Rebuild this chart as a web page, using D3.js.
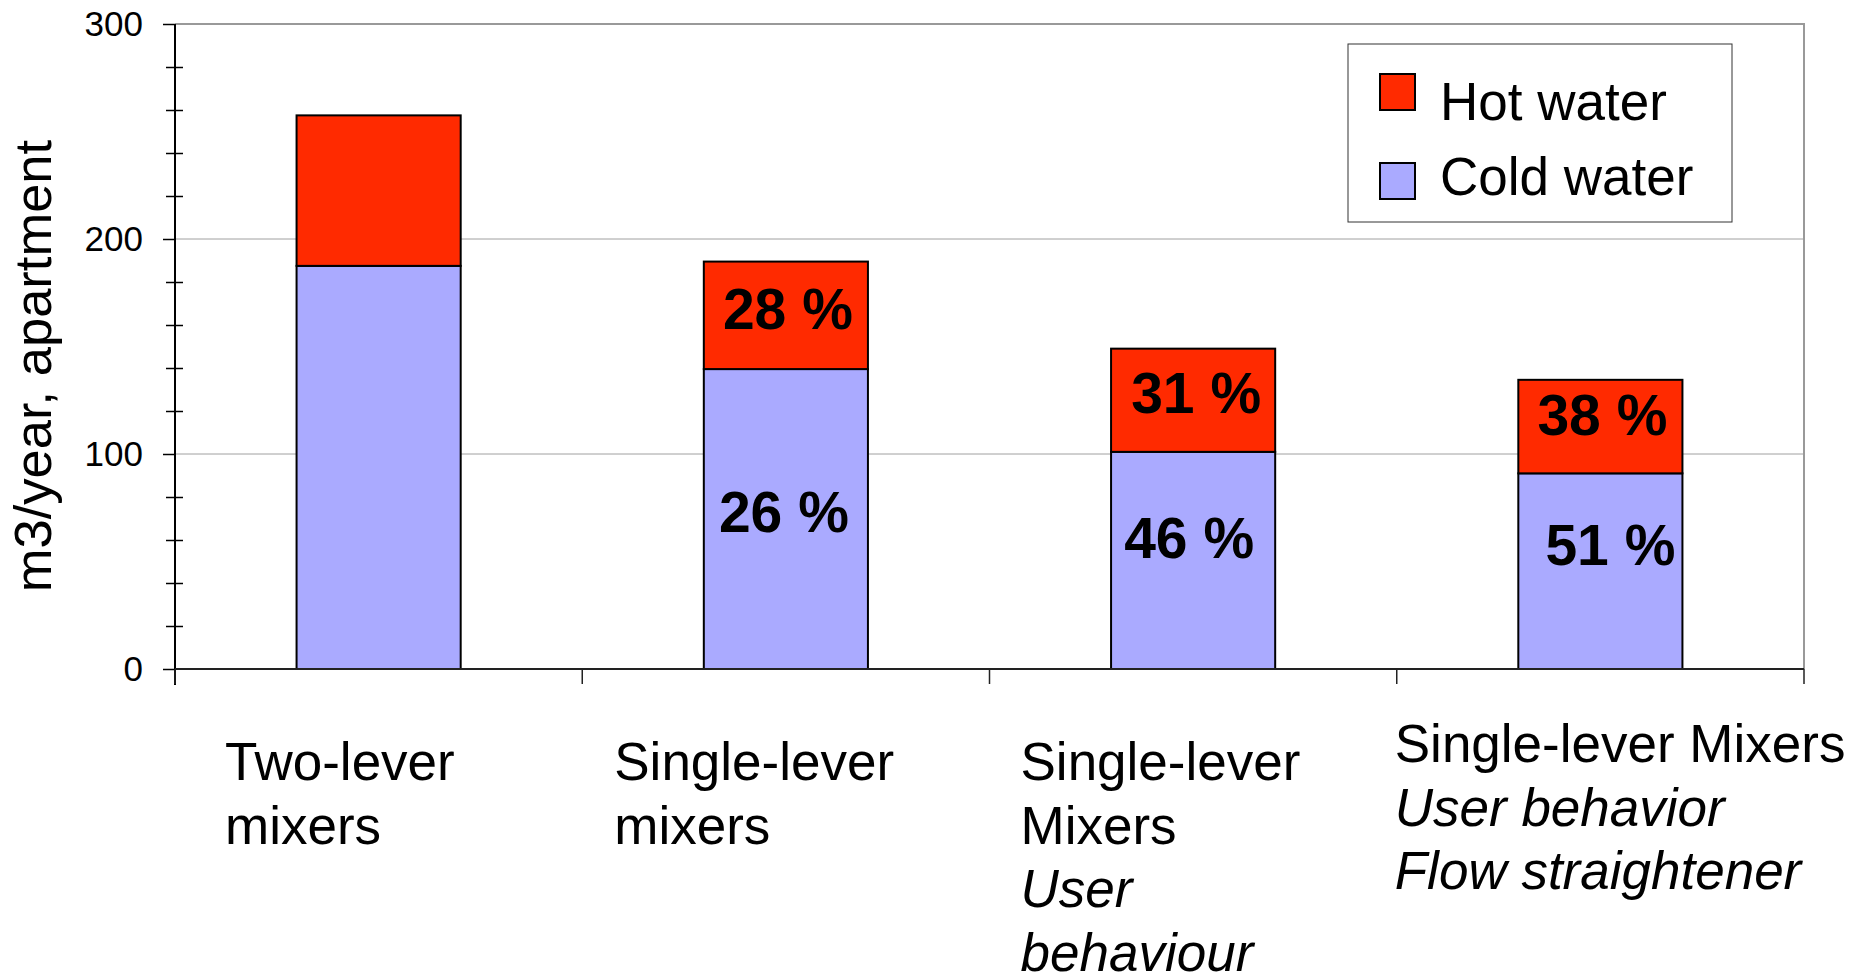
<!DOCTYPE html>
<html>
<head>
<meta charset="utf-8">
<script src="https://cdn.jsdelivr.net/npm/d3@7/dist/d3.min.js"></script>
<style>
  html, body { margin: 0; padding: 0; background: #fff; }
  svg { display: block; font-family: "Liberation Sans", Arial, sans-serif; }
</style>
</head>
<body>
<svg id="chart" width="1865" height="975"></svg>
<script>
// ---- data ----
const categories = ["Two-lever mixers", "Single-lever mixers", "Single-lever Mixers User behaviour", "Single-lever Mixers User behavior Flow straightener"];
// label lines: [text, italic]
const categoryLines = [
  [["Two-lever", false], ["mixers", false]],
  [["Single-lever", false], ["mixers", false]],
  [["Single-lever", false], ["Mixers", false], ["User", true], ["behaviour", true]],
  [["Single-lever Mixers", false], ["User behavior", true], ["Flow straightener", true]]
];
const coldWater = [187.5, 139.5, 101, 91];
const hotWater = [70, 50, 48, 43.5];
const hotLabels = [null, "28 %", "31 %", "38 %"];
const coldLabels = [null, "26 %", "46 %", "51 %"];
const yTicks = [0, 100, 200, 300];
const yMinorTicks = [20, 40, 60, 80, 120, 140, 160, 180, 220, 240, 260, 280];
const seriesNames = ["Hot water", "Cold water"];
const yTitle = "m3/year, apartment";

// ---- layout (pixels, not data) ----
const L = { left: 175, right: 1804, top: 24, bottom: 669 };
const colors = { hot: "#FF2A00", cold: "#AAAAFF" };
const hotNudge = [[0, 0], [2, -7], [3, -8], [2, -12]];
const coldNudge = [[0, 0], [-2, -7], [-4, -23], [10, -27]];
const catLabelDx = [50, 32, 31, -2];
const catLabelY = [780, 780, 780, 762];
const lineGap = 63.5;

const svg = d3.select("#chart");

const y = d3.scaleLinear().domain([0, 300]).range([L.bottom, L.top]);
const x = d3.scaleBand().domain(categories).range([L.left, L.right])
  .paddingInner(0.597).paddingOuter(0.2985);

// gridlines
svg.append("g").selectAll("line").data([100, 200]).join("line")
  .attr("x1", L.left).attr("x2", L.right)
  .attr("y1", d => y(d)).attr("y2", d => y(d))
  .attr("stroke", "#a0a0a0").attr("stroke-width", 1);

// plot border top & right
svg.append("line").attr("x1", L.left).attr("x2", L.right + 1)
  .attr("y1", y(300)).attr("y2", y(300))
  .attr("stroke", "#999").attr("stroke-width", 2);
svg.append("line").attr("x1", L.right).attr("x2", L.right)
  .attr("y1", y(300)).attr("y2", L.bottom)
  .attr("stroke", "#999").attr("stroke-width", 2);

// bars
const stack = categories.map((c, i) => ({ c, i, cold: coldWater[i], hot: hotWater[i] }));
const bars = svg.append("g");
bars.selectAll("rect.cold").data(stack).join("rect").attr("class", "cold")
  .attr("x", d => x(d.c)).attr("width", x.bandwidth())
  .attr("y", d => y(d.cold)).attr("height", d => y(0) - y(d.cold))
  .attr("fill", colors.cold).attr("stroke", "#000").attr("stroke-width", 2);
bars.selectAll("rect.hot").data(stack).join("rect").attr("class", "hot")
  .attr("x", d => x(d.c)).attr("width", x.bandwidth())
  .attr("y", d => y(d.cold + d.hot)).attr("height", d => y(d.cold) - y(d.cold + d.hot))
  .attr("fill", colors.hot).attr("stroke", "#000").attr("stroke-width", 2);

// percent labels
const pctSize = 57;
bars.selectAll("text.hotlbl").data(stack.filter(d => hotLabels[d.i])).join("text")
  .attr("class", "hotlbl")
  .attr("x", d => x(d.c) + x.bandwidth() / 2 + hotNudge[d.i][0])
  .attr("y", d => (y(d.cold) + y(d.cold + d.hot)) / 2 + hotNudge[d.i][1] + pctSize * 0.358)
  .attr("text-anchor", "middle").attr("font-weight", "bold").attr("font-size", pctSize)
  .attr("fill", "#000").text(d => hotLabels[d.i]);
bars.selectAll("text.coldlbl").data(stack.filter(d => coldLabels[d.i])).join("text")
  .attr("class", "coldlbl")
  .attr("x", d => x(d.c) + x.bandwidth() / 2 + coldNudge[d.i][0])
  .attr("y", d => (y(0) + y(d.cold)) / 2 + coldNudge[d.i][1] + pctSize * 0.358)
  .attr("text-anchor", "middle").attr("font-weight", "bold").attr("font-size", pctSize)
  .attr("fill", "#000").text(d => coldLabels[d.i]);

// y axis minor ticks
const yMinor = svg.append("g").attr("transform", `translate(${L.left + 8},0)`)
  .call(d3.axisLeft(y).tickValues(yMinorTicks).tickSize(17).tickFormat(""));
yMinor.select(".domain").remove();
yMinor.selectAll(".tick line").attr("stroke", "#000").attr("stroke-width", 1.5);

// y axis major
const yAxis = svg.append("g").attr("transform", `translate(${L.left},0)`)
  .call(d3.axisLeft(y).tickValues(yTicks).tickSizeInner(12).tickSizeOuter(0).tickPadding(20));
yAxis.select(".domain").attr("stroke", "#000").attr("stroke-width", 2)
  .attr("d", `M0,${L.top}V${L.bottom + 16}`);
yAxis.selectAll(".tick line").attr("stroke", "#000").attr("stroke-width", 1.5);
yAxis.selectAll(".tick text").attr("font-size", 35).attr("fill", "#000")
  .attr("font-family", "Liberation Sans, Arial, sans-serif");

// x axis
const xBounds = categories.map(c => x(c) - x.step() * x.paddingOuter()).concat([L.right]);
svg.append("line").attr("x1", L.left).attr("x2", L.right)
  .attr("y1", L.bottom).attr("y2", L.bottom)
  .attr("stroke", "#222").attr("stroke-width", 2);
svg.append("g").selectAll("line").data(xBounds).join("line")
  .attr("x1", d => d).attr("x2", d => d)
  .attr("y1", L.bottom).attr("y2", L.bottom + 15)
  .attr("stroke", "#222").attr("stroke-width", 1.5);

// category labels
const catG = svg.append("g");
categories.forEach((c, i) => {
  const x0 = x(c) - x.step() * x.paddingOuter() + catLabelDx[i];
  const t = catG.append("text").attr("font-size", 53).attr("fill", "#000");
  categoryLines[i].forEach((ln, j) => {
    t.append("tspan").attr("x", x0).attr("y", catLabelY[i] + j * lineGap)
      .attr("font-style", ln[1] ? "italic" : "normal").text(ln[0]);
  });
});

// y title
svg.append("text")
  .attr("transform", `translate(51,366) rotate(-90)`)
  .attr("text-anchor", "middle").attr("font-size", 52.5).attr("fill", "#000")
  .text(yTitle);

// legend
const lg = svg.append("g");
lg.append("rect").attr("x", 1348).attr("y", 44).attr("width", 384).attr("height", 178)
  .attr("fill", "#fff").attr("stroke", "#333").attr("stroke-width", 1);
const legendItems = [
  { name: seriesNames[0], color: colors.hot },
  { name: seriesNames[1], color: colors.cold }
];
lg.selectAll("rect.sw").data(legendItems).join("rect").attr("class", "sw")
  .attr("x", 1380).attr("y", (d, i) => 74 + i * 89)
  .attr("width", 35).attr("height", 36)
  .attr("fill", d => d.color).attr("stroke", "#000").attr("stroke-width", 2);
lg.selectAll("text").data(legendItems).join("text")
  .attr("x", 1440).attr("y", (d, i) => 120 + i * 75)
  .attr("font-size", 53).attr("fill", "#000").text(d => d.name);
</script>
</body>
</html>
